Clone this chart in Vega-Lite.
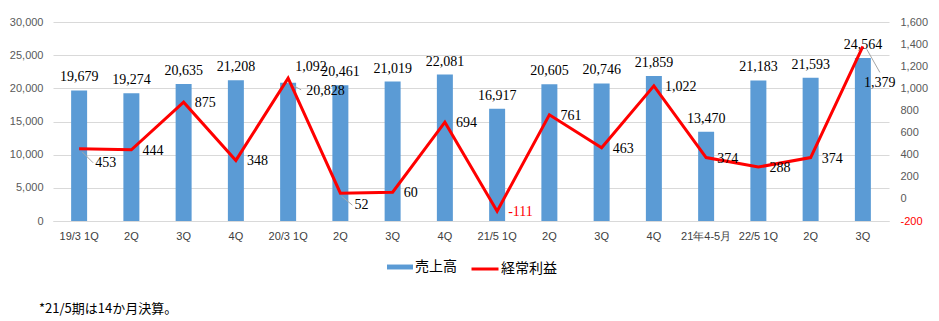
{
  "$schema": "https://vega.github.io/schema/vega-lite/v6.json",
  "width": 836,
  "height": 199,
  "autosize": {"type": "none"},
  "padding": {"left": 53, "top": 22, "right": 50, "bottom": 100},
  "background": "white",
  "config": {
    "view": {"stroke": null},
    "locale": {"number": {"decimal": ".", "thousands": ",", "grouping": [3], "currency": ["$", ""], "minus": "-"}},
    "axis": {"title": null, "ticks": false, "labelFont": "Liberation Sans", "labelFontSize": 11, "labelColor": "#595959"}
  },
  "title": {
    "text": "*21/5期は14か月決算。",
    "orient": "bottom",
    "anchor": "start",
    "frame": "group",
    "dx": -14,
    "offset": 27,
    "font": "Noto Sans CJK JP",
    "fontSize": 13,
    "fontWeight": "normal",
    "color": "#000000"
  },
  "data": {
    "values": [
      {"key": "19/3 1Q", "sales": 19679, "profit": 453},
      {"key": "19/3 2Q", "sales": 19274, "profit": 444},
      {"key": "19/3 3Q", "sales": 20635, "profit": 875},
      {"key": "19/3 4Q", "sales": 21208, "profit": 348},
      {"key": "20/3 1Q", "sales": 20828, "profit": 1092},
      {"key": "20/3 2Q", "sales": 20461, "profit": 52},
      {"key": "20/3 3Q", "sales": 21019, "profit": 60},
      {"key": "20/3 4Q", "sales": 22081, "profit": 694},
      {"key": "21/5 1Q", "sales": 16917, "profit": -111},
      {"key": "21/5 2Q", "sales": 20605, "profit": 761},
      {"key": "21/5 3Q", "sales": 20746, "profit": 463},
      {"key": "21/5 4Q", "sales": 21859, "profit": 1022},
      {"key": "21年4-5月", "sales": 13470, "profit": 374},
      {"key": "22/5 1Q", "sales": 21183, "profit": 288},
      {"key": "22/5 2Q", "sales": 21593, "profit": 374},
      {"key": "22/5 3Q", "sales": 24564, "profit": 1379}
    ]
  },
  "encoding": {
    "x": {
      "field": "key",
      "type": "nominal",
      "sort": null,
      "scale": {"paddingInner": 0.694, "paddingOuter": 0.347},
      "axis": {
        "labelAngle": 0,
        "labelColor": "#404040",
        "labelPadding": 9,
        "domainColor": "#D9D9D9",
        "grid": false,
        "labelExpr": "indexof(datum.label,'1Q') >= 0 || indexof(datum.label,'年') >= 0 ? datum.label : split(datum.label,' ')[1]"
      }
    }
  },
  "layer": [
    {
      "encoding": {
        "y": {
          "field": "sales",
          "type": "quantitative",
          "scale": {"domain": [0, 30000], "nice": false},
          "axis": {"orient": "left", "tickCount": 6, "format": ",d", "domain": false, "grid": true, "gridColor": "#D9D9D9", "labelPadding": 10}
        }
      },
      "layer": [
        {
          "mark": {"type": "bar"},
          "encoding": {
            "fill": {
              "datum": "売上高",
              "type": "nominal",
              "scale": {"range": ["#5B9BD5"]},
              "legend": {
                "title": null,
                "orient": "none",
                "legendX": 334,
                "legendY": 232,
                "symbolType": "M-1,-0.19H1V0.19H-1Z",
                "symbolSize": 676,
                "symbolStrokeWidth": 0,
                "labelFont": "Noto Sans CJK JP",
                "labelFontSize": 14,
                "labelColor": "#000000",
                "labelOffset": 2,
                "padding": 0
              }
            }
          }
        },
        {
          "transform": [{"filter": "datum.key !== '20/3 1Q'"}],
          "mark": {"type": "text", "baseline": "bottom", "dy": -6, "font": "Liberation Serif", "fontSize": 14, "color": "#000000"},
          "encoding": {"text": {"field": "sales", "type": "quantitative", "format": ","}}
        },
        {
          "transform": [{"filter": "datum.key === '20/3 1Q'"}],
          "mark": {"type": "text", "baseline": "middle", "align": "left", "dx": 18, "dy": 8, "font": "Liberation Serif", "fontSize": 14, "color": "#000000"},
          "encoding": {"text": {"field": "sales", "type": "quantitative", "format": ","}}
        },
        {
          "transform": [{"filter": "datum.key === '20/3 1Q'"}],
          "mark": {"type": "rule", "color": "#A6A6A6", "strokeWidth": 1, "xOffset": 0, "yOffset": 0, "x2Offset": 13, "y2Offset": 7},
          "encoding": {"x2": {"field": "key"}, "y2": {"field": "sales"}}
        }
      ]
    },
    {
      "encoding": {
        "y": {
          "field": "profit",
          "type": "quantitative",
          "scale": {"domain": [-200, 1600], "nice": false, "zero": false},
          "axis": {
            "orient": "right",
            "tickCount": 9,
            "format": ",d",
            "domain": false,
            "grid": false,
            "labelPadding": 11,
            "labelColor": {"condition": {"test": "datum.value < 0", "value": "#FF0000"}, "value": "#595959"}
          }
        }
      },
      "layer": [
        {
          "mark": {"type": "line", "strokeWidth": 3},
          "encoding": {
            "stroke": {
              "datum": "経常利益",
              "type": "nominal",
              "scale": {"range": ["#FF0000"]},
              "legend": {
                "title": null,
                "orient": "none",
                "legendX": 417,
                "legendY": 232,
                "symbolType": "stroke",
                "symbolSize": 729,
                "symbolStrokeWidth": 3,
                "labelFont": "Noto Sans CJK JP",
                "labelFontSize": 14,
                "labelColor": "#000000",
                "labelOffset": 1,
                "padding": 0
              }
            }
          }
        },
        {
          "transform": [{"filter": "indexof(['19/3 1Q','20/3 1Q','20/3 2Q','22/5 3Q'], datum.key) < 0"}],
          "mark": {"type": "text", "baseline": "middle", "align": "left", "dx": 11, "dy": 1, "font": "Liberation Serif", "fontSize": 14},
          "encoding": {
            "text": {"field": "profit", "type": "quantitative", "format": ","},
            "color": {"condition": {"test": "datum.profit < 0", "value": "#FF0000"}, "value": "#000000"}
          }
        },
        {
          "transform": [{"filter": "datum.key === '19/3 1Q'"}],
          "mark": {"type": "text", "baseline": "middle", "align": "left", "dx": 16, "dy": 14, "font": "Liberation Serif", "fontSize": 14, "color": "#000000"},
          "encoding": {"text": {"field": "profit", "type": "quantitative", "format": ","}}
        },
        {
          "transform": [{"filter": "datum.key === '20/3 1Q'"}],
          "mark": {"type": "text", "baseline": "middle", "align": "left", "dx": 7, "dy": -11, "font": "Liberation Serif", "fontSize": 14, "color": "#000000"},
          "encoding": {"text": {"field": "profit", "type": "quantitative", "format": ","}}
        },
        {
          "transform": [{"filter": "datum.key === '20/3 2Q'"}],
          "mark": {"type": "text", "baseline": "middle", "align": "left", "dx": 14, "dy": 12, "font": "Liberation Serif", "fontSize": 14, "color": "#000000"},
          "encoding": {"text": {"field": "profit", "type": "quantitative", "format": ","}}
        },
        {
          "transform": [{"filter": "datum.key === '22/5 3Q'"}],
          "mark": {"type": "text", "baseline": "middle", "align": "left", "dx": 1, "dy": 37, "font": "Liberation Serif", "fontSize": 14, "color": "#000000"},
          "encoding": {"text": {"field": "profit", "type": "quantitative", "format": ","}}
        },
        {
          "transform": [{"filter": "datum.key === '19/3 1Q'"}],
          "mark": {"type": "rule", "color": "#A6A6A6", "strokeWidth": 1, "xOffset": 3, "yOffset": 3, "x2Offset": 14, "y2Offset": 14},
          "encoding": {"x2": {"field": "key"}, "y2": {"field": "profit"}}
        },
        {
          "transform": [{"filter": "datum.key === '20/3 2Q'"}],
          "mark": {"type": "rule", "color": "#A6A6A6", "strokeWidth": 1, "xOffset": 1, "yOffset": 3, "x2Offset": 12, "y2Offset": 12},
          "encoding": {"x2": {"field": "key"}, "y2": {"field": "profit"}}
        },
        {
          "transform": [{"filter": "datum.key === '22/5 3Q'"}],
          "mark": {"type": "rule", "color": "#A6A6A6", "strokeWidth": 1, "xOffset": 4, "yOffset": 3, "x2Offset": 17, "y2Offset": 26},
          "encoding": {"x2": {"field": "key"}, "y2": {"field": "profit"}}
        }
      ]
    }
  ],
  "resolve": {"scale": {"y": "independent"}}
}
